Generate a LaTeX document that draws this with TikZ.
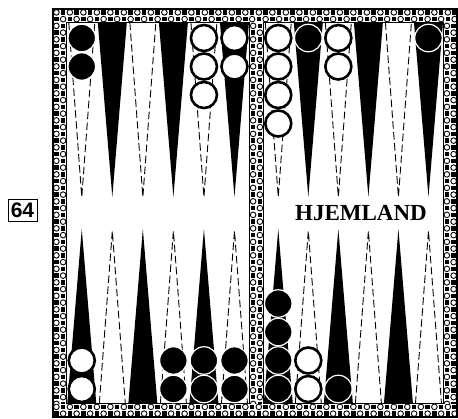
\documentclass[tikz,border=0pt]{standalone}
\usepackage{fontspec}
\setmainfont{Liberation Serif}
\newfontfamily\tagfont{Liberation Sans}

\begin{document}
\begin{tikzpicture}[x=1pt, y=-1pt,
  % Points: solid black or dashed outline
  darkpoint/.style={fill=black},
  lightpoint/.style={draw=black, line width=0.9pt, dash pattern=on 7.5pt off 3.5pt},
  % Checkers
  blackchk/.style={circle, fill=black, draw=white, line width=1.2pt,
                   minimum size=27.5pt, inner sep=0pt},
  whitechk/.style={circle, fill=white, draw=black, line width=2.6pt,
                   minimum size=26pt, inner sep=0pt},
  % Cells of the checkered frame
  dotcell/.style={draw=black, fill=white, line width=0.9pt},
  sqcell/.style={fill=black},
  framebox/.style={draw=black, line width=1.2pt}
]
  \useasboundingbox (0,0) rectangle (458,418);

  % Checkered frame: top, bottom, left, right and bar
  \foreach \sx/\sy/\sw/\sh in {53/9/404/13.5, 53/403.5/404/13.5, 53/22.5/13.5/381,
                               443.5/22.5/13.5/381, 249.75/22.5/13.5/381} {
    \begin{scope}
      \clip (\sx,\sy) rectangle ++(\sw,\sh);
      \pgfmathtruncatemacro\nx{ceil(\sw/6.75)-1}
      \pgfmathtruncatemacro\ny{ceil(\sh/6.75)-1}
      \foreach \i in {0,...,\nx} {
        \foreach \j in {0,...,\ny} {
          \pgfmathtruncatemacro\cellpar{mod(\i+\j,2)}
          \ifnum\cellpar=0
            \draw[dotcell] (\sx+6.75*\i+3.375, \sy+6.75*\j+3.375) circle (2.8);
          \else
            \fill[sqcell] (\sx+6.75*\i+1.1, \sy+6.75*\j+1.1) rectangle ++(4.55,4.55);
          \fi
        }
      }
    \end{scope}
  }
  \draw[framebox] (53,9) rectangle (457,417);
  \draw[framebox] (66.5,22.5) rectangle (249.75,403.5);
  \draw[framebox] (263.25,22.5) rectangle (443.5,403.5);

  % Points, six per half
  \foreach \i in {1,...,6} {
    \pgfmathsetmacro\xl{66.5+30.54*(\i-0.5)}
    \pgfmathsetmacro\xr{263.25+30.04*(\i-0.5)}
    \foreach \x in {\xl,\xr} {
      \ifodd\i
        \draw[lightpoint] (\x-13,22.5) -- (\x,197) -- (\x+13,22.5);
        \fill[darkpoint] (\x-14.5,403.5) -- (\x,229) -- (\x+14.5,403.5) -- cycle;
      \else
        \fill[darkpoint] (\x-14.5,22.5) -- (\x,197) -- (\x+14.5,22.5) -- cycle;
        \draw[lightpoint] (\x-13,403.5) -- (\x,231) -- (\x+13,403.5);
      \fi
    }
  }

  % Checkers on the upper points (side/point/count/style)
  \foreach \s/\c/\n/\k in {0/1/2/blackchk, 0/5/3/whitechk, 0/6/2/whitechk,
                           1/1/4/whitechk, 1/2/1/blackchk, 1/3/2/whitechk, 1/6/1/blackchk} {
    \pgfmathsetmacro\cx{\s==0 ? 66.5+30.54*(\c-0.5) : 263.25+30.04*(\c-0.5)}
    \foreach \m in {1,...,\n}
      \node[\k] (top\s\c\m) at (\cx,{38+28.5*(\m-1)}) {};
  }

  % Checkers on the lower points
  \foreach \s/\c/\n/\k in {0/1/2/whitechk, 0/4/2/blackchk, 0/5/2/blackchk, 0/6/2/blackchk,
                           1/1/4/blackchk, 1/2/2/whitechk, 1/3/1/blackchk} {
    \pgfmathsetmacro\cx{\s==0 ? 66.5+30.54*(\c-0.5) : 263.25+30.04*(\c-0.5)}
    \foreach \m in {1,...,\n}
      \node[\k] (bot\s\c\m) at (\cx,{389-28.5*(\m-1)}) {};
  }

  % Labels
  \node[font=\bfseries\fontsize{23}{23}\selectfont, inner sep=0pt] (home) at (361,213) {HJEMLAND};
  \node[draw=black, line width=0.8pt, minimum width=29pt, minimum height=22pt, inner sep=0pt,
        font=\tagfont\bfseries\fontsize{21}{21}\selectfont] (diagno) at (22.5,210) {64};

\end{tikzpicture}
\end{document}
